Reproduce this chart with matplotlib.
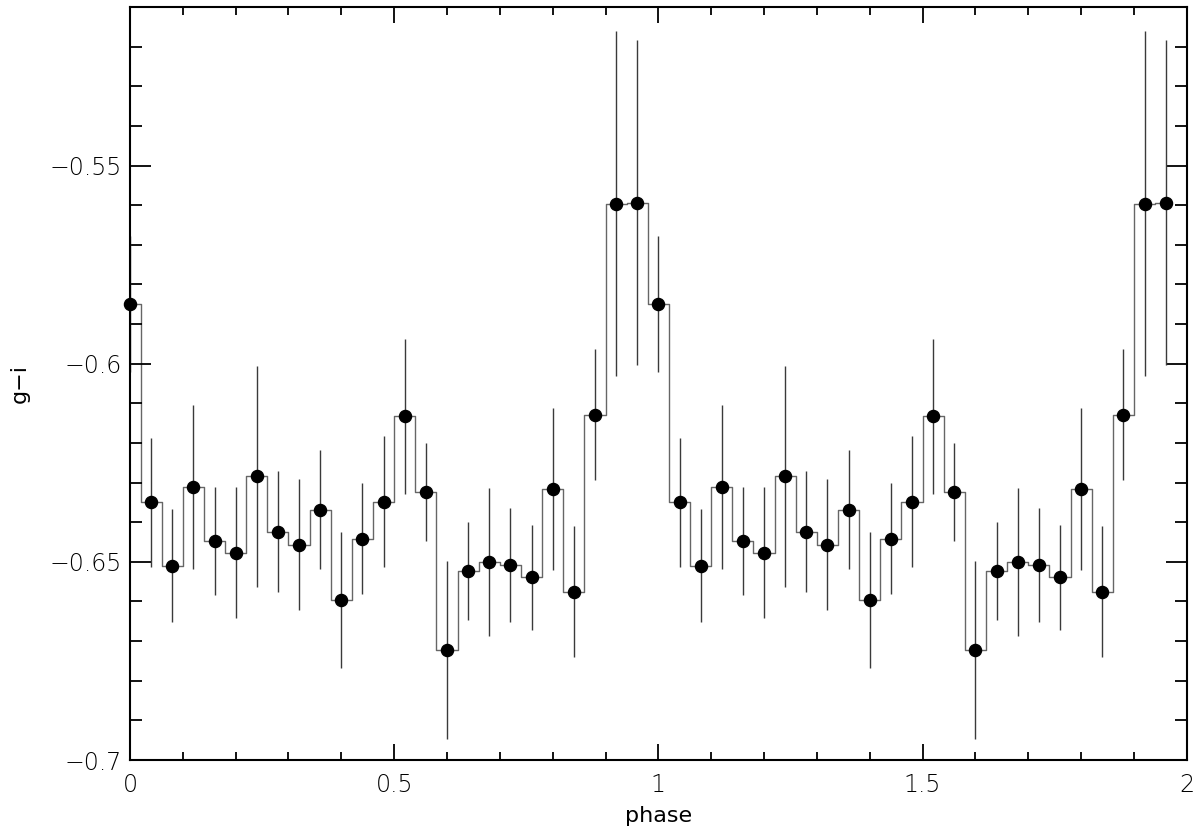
import numpy as np
import matplotlib
matplotlib.use("Agg")
import matplotlib.pyplot as plt
from matplotlib.ticker import MultipleLocator

# one cycle of the folded colour curve, 25 bins of 0.04 in phase
bin_phase = [0.00, 0.04, 0.08, 0.12, 0.16, 0.20, 0.24, 0.28, 0.32, 0.36,
             0.40, 0.44, 0.48, 0.52, 0.56, 0.60, 0.64, 0.68, 0.72, 0.76,
             0.80, 0.84, 0.88, 0.92, 0.96]
gi = [-0.5849, -0.6350, -0.6510, -0.6311, -0.6448, -0.6477, -0.6284, -0.6424,
      -0.6457, -0.6368, -0.6597, -0.6442, -0.6348, -0.6133, -0.6323, -0.6722,
      -0.6523, -0.6500, -0.6508, -0.6539, -0.6317, -0.6575, -0.6129, -0.5596,
      -0.5594]
gi_err = [0.0172, 0.0162, 0.0143, 0.0206, 0.0136, 0.0165, 0.0279, 0.0152,
          0.0165, 0.0151, 0.0172, 0.0140, 0.0166, 0.0196, 0.0124, 0.0224,
          0.0123, 0.0186, 0.0144, 0.0133, 0.0204, 0.0165, 0.0165, 0.0435,
          0.0410]

# plotted twice: phase 0-1 and 1-2
phase = np.concatenate([bin_phase, np.array(bin_phase) + 1.0])
y = np.tile(gi, 2)
yerr = np.tile(gi_err, 2)

plt.rcParams['font.family'] = ['DejaVu Sans']
plt.rcParams['font.weight'] = 'light'

fig = plt.figure(figsize=(12, 8.36), dpi=100)
ax = fig.add_axes([0.1083, 0.0909, 0.8807, 0.9007])

ax.plot(phase, y, drawstyle="steps-mid", color="#666666", lw=1.0, zorder=1)
ax.errorbar(phase, y, yerr=yerr, fmt="none", ecolor="#3a3a3a", elinewidth=1.0,
            capsize=0, zorder=2)
ax.plot(phase, y, "o", color="black", markersize=8.7, zorder=3, clip_on=False)

ax.set_xlim(0, 2)
ax.set_ylim(-0.7, -0.51)
ax.xaxis.set_major_locator(MultipleLocator(0.5))
ax.xaxis.set_minor_locator(MultipleLocator(0.1))
ax.yaxis.set_major_locator(MultipleLocator(0.05))
ax.yaxis.set_minor_locator(MultipleLocator(0.01))
ax.xaxis.set_major_formatter(plt.FuncFormatter(lambda v, p: f"{v:g}"))
ax.yaxis.set_major_formatter(plt.FuncFormatter(lambda v, p: f"{v:g}".replace("-", "\u2212")))

ax.tick_params(which="both", direction="in", top=True, right=True, width=1.3,
               labelsize=17, colors="black")
ax.tick_params(axis="x", which="major", length=11.5, pad=9)
ax.tick_params(axis="x", which="minor", length=6)
ax.tick_params(axis="y", which="major", length=15, pad=6)
ax.tick_params(axis="y", which="minor", length=8.5)
for s in ax.spines.values():
    s.set_linewidth(1.5)

ax.set_xlabel("phase", fontsize=16, labelpad=7)
ax.set_ylabel("g\u2212i", fontsize=16, labelpad=14)

fig.savefig("out.png", dpi=100)
